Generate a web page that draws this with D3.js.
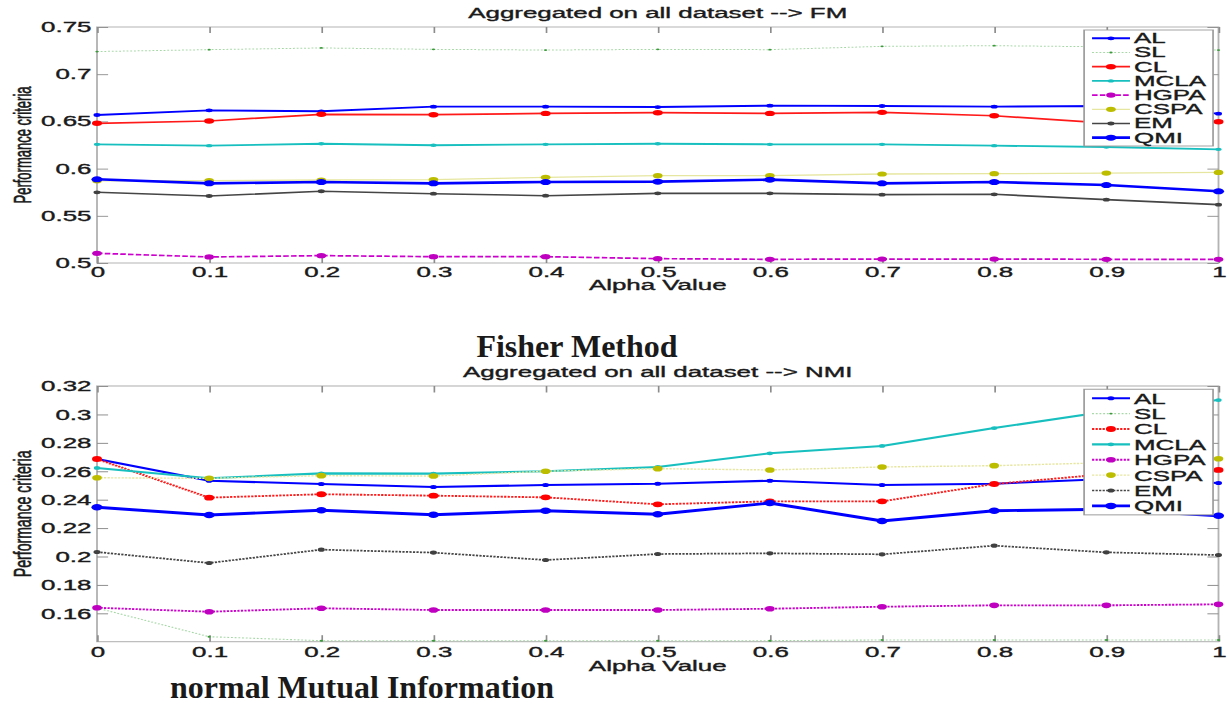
<!DOCTYPE html>
<html>
<head>
<meta charset="utf-8">
<script src="https://cdn.jsdelivr.net/npm/d3@7"></script>
<style>
  body { margin: 0; background: #fff; }
  svg text { font-family: "Liberation Sans", Arial, sans-serif; fill: #1a1a1a; }
  .fig text { stroke: #1a1a1a; stroke-width: 0.35; }
</style>
</head>
<body>
<svg id="chart" width="1229" height="706"></svg>
<script>
// x values and labels (shared by both panels)
const alpha = [0, 0.1, 0.2, 0.3, 0.4, 0.5, 0.6, 0.7, 0.8, 0.9, 1];
const xTickLabels = ["0", "0.1", "0.2", "0.3", "0.4", "0.5", "0.6", "0.7", "0.8", "0.9", "1"];
const seriesNames = ["AL", "SL", "CL", "MCLA", "HGPA", "CSPA", "EM", "QMI"];

// panel 1 : FM
const fmAL   = [0.6568, 0.6617, 0.6607, 0.6656, 0.6656, 0.6652, 0.6667, 0.6663, 0.6656, 0.6663, 0.6582];
const fmSL   = [0.7240, 0.7260, 0.7278, 0.7263, 0.7256, 0.7263, 0.7260, 0.7295, 0.7302, 0.7290, 0.7256];
const fmCL   = [0.6480, 0.6504, 0.6575, 0.6571, 0.6585, 0.6592, 0.6585, 0.6596, 0.6560, 0.6481, 0.6497];
const fmMCLA = [0.6257, 0.6243, 0.6264, 0.6247, 0.6257, 0.6264, 0.6257, 0.6257, 0.6243, 0.6229, 0.6204];
const fmHGPA = [0.5103, 0.5064, 0.5078, 0.5067, 0.5067, 0.5046, 0.5039, 0.5042, 0.5042, 0.5039, 0.5039];
const fmCSPA = [0.5870, 0.5872, 0.5879, 0.5883, 0.5908, 0.5925, 0.5925, 0.5943, 0.5946, 0.5953, 0.5960];
const fmEM   = [0.5749, 0.5710, 0.5760, 0.5734, 0.5713, 0.5738, 0.5738, 0.5724, 0.5728, 0.5671, 0.5618];
const fmQMI  = [0.5887, 0.5844, 0.5858, 0.5844, 0.5858, 0.5862, 0.5883, 0.5844, 0.5858, 0.5826, 0.5760];
const fmYTicks = [0.5, 0.55, 0.6, 0.65, 0.7, 0.75];
const fmYTickLabels = ["0.5", "0.55", "0.6", "0.65", "0.7", "0.75"];

// panel 2 : NMI
const nmiAL   = [0.2686, 0.2533, 0.2510, 0.2489, 0.2503, 0.2512, 0.2533, 0.2503, 0.2512, 0.2545, 0.2517];
const nmiSL   = [0.1637, 0.1435, 0.1407, 0.1407, 0.1407, 0.1407, 0.1407, 0.1412, 0.1412, 0.1412, 0.1412];
const nmiCL   = [0.2686, 0.2414, 0.2438, 0.2428, 0.2416, 0.2367, 0.2388, 0.2388, 0.2510, 0.2580, 0.2609];
const nmiMCLA = [0.2623, 0.2550, 0.2585, 0.2583, 0.2600, 0.2630, 0.2726, 0.2778, 0.2904, 0.3020, 0.3101];
const nmiHGPA = [0.1639, 0.1611, 0.1635, 0.1623, 0.1623, 0.1623, 0.1632, 0.1646, 0.1656, 0.1656, 0.1663];
const nmiCSPA = [0.2554, 0.2550, 0.2569, 0.2566, 0.2600, 0.2618, 0.2609, 0.2630, 0.2639, 0.2660, 0.2688];
const nmiEM   = [0.2031, 0.1954, 0.2048, 0.2027, 0.1975, 0.2017, 0.2022, 0.2015, 0.2076, 0.2029, 0.2010];
const nmiQMI  = [0.2346, 0.2292, 0.2325, 0.2294, 0.2322, 0.2297, 0.2376, 0.2250, 0.2322, 0.2332, 0.2287];
const nmiYTicks = [0.16, 0.18, 0.2, 0.22, 0.24, 0.26, 0.28, 0.3, 0.32];
const nmiYTickLabels = ["0.16", "0.18", "0.2", "0.22", "0.24", "0.26", "0.28", "0.3", "0.32"];

// look of each series (line colour, marker colour, width, marker radius)
const looks = {
  AL:   { line: "#0000ff", mark: "#0000ff", w: 1.9, r: 1.9 },
  SL:   { line: "#a6d8a6", mark: "#3c9a3c", w: 1.0, r: 0.9 },
  CL:   { line: "#ff1a1a", mark: "#ff0000", w: 1.7, r: 2.7 },
  MCLA: { line: "#17bfbf", mark: "#17bfbf", w: 1.9, r: 1.7 },
  HGPA: { line: "#cc00cc", mark: "#c000c0", w: 1.7, r: 2.6 },
  CSPA: { line: "#e6e6a0", mark: "#bdbd00", w: 1.3, r: 2.6 },
  EM:   { line: "#454545", mark: "#404040", w: 1.6, r: 1.9 },
  QMI:  { line: "#0000ff", mark: "#0000ff", w: 2.7, r: 3.0 }
};
const fmDash  = { SL: "1,1", HGPA: "3,1.2" };
const nmiDash = { SL: "1,1", CL: "1.2,0.7", HGPA: "1.2,0.7", CSPA: "1.2,0.7", EM: "1.2,0.7" };

// the figure images are stretched sideways in the reference
const SX = 1.85;
const svg = d3.select("#chart");

function drawFigure(cfg) {
  const g = svg.append("g").attr("class", "fig")
      .attr("transform", `translate(0,${cfg.offY}) scale(${SX},${cfg.sy})`);

  const x = d3.scaleLinear().domain([0, 1]).range([97 / SX, 1218.5 / SX]);
  const y = d3.scaleLinear().domain(cfg.yDomain).range([cfg.yBot, cfg.yTop]);
  const [x0, x1] = x.range();

  // box
  g.append("rect")
      .attr("x", x0).attr("y", cfg.yTop)
      .attr("width", x1 - x0).attr("height", cfg.yBot - cfg.yTop)
      .attr("fill", "none").attr("stroke", "#b3b3b3").attr("stroke-width", 1);

  // axes, ticks pointing inwards on all four sides
  const styleAxis = sel => {
    sel.select(".domain").remove();
    sel.selectAll(".tick line").attr("stroke", "#8c8c8c").attr("stroke-width", 0.9);
    sel.selectAll("text").attr("font-size", 14).attr("fill", "#1a1a1a")
       .attr("font-family", "Liberation Sans, Arial, sans-serif");
  };
  g.append("g").attr("transform", `translate(0,${cfg.yBot})`)
      .call(d3.axisBottom(x).tickValues(alpha).tickSize(-6).tickPadding(4)
            .tickFormat((d, i) => xTickLabels[i]))
      .call(styleAxis);
  g.append("g").attr("transform", `translate(0,${cfg.yTop})`)
      .call(d3.axisTop(x).tickValues(alpha).tickSize(-6).tickFormat(() => ""))
      .call(styleAxis);
  g.append("g").attr("transform", `translate(${x0},0)`)
      .call(d3.axisLeft(y).tickValues(cfg.yTicks).tickSize(-6).tickPadding(3)
            .tickFormat((d, i) => cfg.yTickLabels[i]))
      .call(styleAxis);
  g.append("g").attr("transform", `translate(${x1},0)`)
      .call(d3.axisRight(y).tickValues(cfg.yTicks).tickSize(-6).tickFormat(() => ""))
      .call(styleAxis);

  // series
  const line = d3.line().x((d, i) => x(alpha[i])).y(d => y(d));
  seriesNames.forEach(name => {
    const lk = looks[name], vals = cfg.series[name];
    g.append("path").datum(vals)
        .attr("d", line).attr("fill", "none")
        .attr("stroke", lk.line).attr("stroke-width", lk.w)
        .attr("stroke-dasharray", cfg.dash[name] || null);
    g.append("g").selectAll("circle").data(vals).join("circle")
        .attr("cx", (d, i) => x(alpha[i])).attr("cy", d => y(d))
        .attr("r", lk.r).attr("fill", lk.mark);
  });

  // titles
  g.append("text").attr("x", (x0 + x1) / 2).attr("y", cfg.yTop - 8.7)
      .attr("text-anchor", "middle").attr("font-size", 14).text(cfg.title);
  g.append("text").attr("x", (x0 + x1) / 2).attr("y", cfg.yBot + 27.5)
      .attr("text-anchor", "middle").attr("font-size", 14).text("Alpha Value");
  g.append("text")
      .attr("transform", `translate(17,${(cfg.yTop + cfg.yBot) / 2}) rotate(-90)`)
      .attr("text-anchor", "middle").attr("font-size", 13).text("Performance criteria");

  // legend
  const lx = 586, ly = cfg.yTop + 3;
  const leg = g.append("g");
  leg.append("rect").attr("x", lx).attr("y", ly).attr("width", 69.7).attr("height", 116)
      .attr("fill", "#fff").attr("stroke", "#9a9a9a").attr("stroke-width", 0.9);
  seriesNames.forEach((name, i) => {
    const lk = looks[name], yy = ly + 8.3 + i * 14.2;
    leg.append("line").attr("x1", lx + 4.3).attr("x2", lx + 24.8)
        .attr("y1", yy).attr("y2", yy)
        .attr("stroke", lk.line).attr("stroke-width", lk.w)
        .attr("stroke-dasharray", cfg.dash[name] || null);
    leg.append("circle").attr("cx", lx + 14.5).attr("cy", yy).attr("r", lk.r).attr("fill", lk.mark);
    leg.append("text").attr("x", lx + 27).attr("y", yy + 5)
        .attr("font-size", 14).text(name);
  });
}

drawFigure({
  offY: 0, sy: 1, yTop: 27, yBot: 263,
  yDomain: [0.5, 0.75], yTicks: fmYTicks, yTickLabels: fmYTickLabels,
  title: "Aggregated on all dataset --> FM", dash: fmDash,
  series: { AL: fmAL, SL: fmSL, CL: fmCL, MCLA: fmMCLA, HGPA: fmHGPA, CSPA: fmCSPA, EM: fmEM, QMI: fmQMI }
});

drawFigure({
  offY: 330, sy: 1.083, yTop: 51.7, yBot: 287.8,
  yDomain: [0.14, 0.32], yTicks: nmiYTicks, yTickLabels: nmiYTickLabels,
  title: "Aggregated on all dataset --> NMI", dash: nmiDash,
  series: { AL: nmiAL, SL: nmiSL, CL: nmiCL, MCLA: nmiMCLA, HGPA: nmiHGPA, CSPA: nmiCSPA, EM: nmiEM, QMI: nmiQMI }
});

// captions from the surrounding document
svg.append("text").attr("x", 577).attr("y", 357).attr("text-anchor", "middle")
    .style("font-family", "'Liberation Serif', 'Times New Roman', serif")
    .attr("font-weight", "bold").attr("font-size", 32).attr("fill", "#000")
    .text("Fisher Method");
svg.append("text").attr("x", 170).attr("y", 698)
    .style("font-family", "'Liberation Serif', 'Times New Roman', serif")
    .attr("font-weight", "bold").attr("font-size", 32).attr("fill", "#000")
    .text("normal Mutual Information");
</script>
</body>
</html>
